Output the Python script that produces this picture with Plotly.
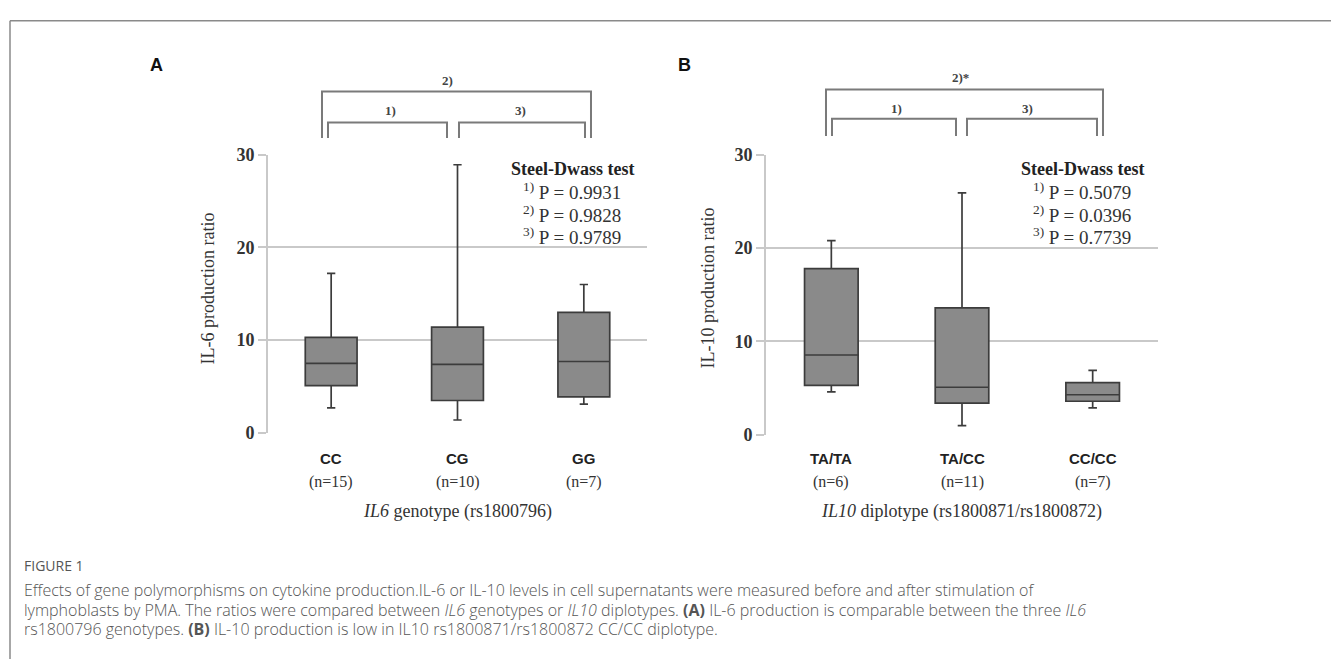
import plotly.graph_objects as go

W, H = 1331, 669

# ---------------- data ----------------
cats_a = ["CC", "CG", "GG"]
n_a = ["(n=15)", "(n=10)", "(n=7)"]
lowf_a = [2.7, 1.4, 3.1]
q1_a = [5.1, 3.5, 3.9]
med_a = [7.5, 7.4, 7.7]
q3_a = [10.3, 11.4, 13.0]
upf_a = [17.2, 28.9, 16.0]
p_a = ["0.9931", "0.9828", "0.9789"]

cats_b = ["TA/TA", "TA/CC", "CC/CC"]
n_b = ["(n=6)", "(n=11)", "(n=7)"]
lowf_b = [4.6, 1.0, 2.9]
q1_b = [5.3, 3.4, 3.6]
med_b = [8.55, 5.1, 4.3]
q3_b = [17.8, 13.6, 5.6]
upf_b = [20.8, 25.9, 6.9]
p_b = ["0.5079", "0.0396", "0.7739"]

yticks = [0, 10, 20, 30]

# ---------------- helpers ----------------
def px(x):
    return x / W

def py(y):
    return 1 - y / H

SERIF = "Liberation Serif"
SANS = "Liberation Sans"
GRID = "#c9c9c9"
BOXFILL = "#8a8a8a"
BOXLINE = "#3c3c3c"
TXT = "#333333"

fig = go.Figure()

fig.add_trace(go.Box(
    x=cats_a, q1=q1_a, median=med_a, q3=q3_a, lowerfence=lowf_a, upperfence=upf_a,
    xaxis="x", yaxis="y", fillcolor=BOXFILL, line=dict(color=BOXLINE, width=1.7),
    width=0.41, whiskerwidth=0.16, showlegend=False, boxpoints=False, hoverinfo="skip"))
fig.add_trace(go.Box(
    x=cats_b, q1=q1_b, median=med_b, q3=q3_b, lowerfence=lowf_b, upperfence=upf_b,
    xaxis="x2", yaxis="y2", fillcolor=BOXFILL, line=dict(color=BOXLINE, width=1.7),
    width=0.41, whiskerwidth=0.16, showlegend=False, boxpoints=False, hoverinfo="skip"))

xa_common = dict(type="category", range=[-0.5, 2.5], showticklabels=False, showgrid=False,
                 zeroline=False, showline=False, ticks="", fixedrange=True)
ya_common = dict(range=[0, 30], tickvals=yticks, showgrid=True, gridcolor=GRID, gridwidth=1.6,
                 zeroline=False, showline=True, linecolor=GRID, linewidth=1.6,
                 ticks="outside", ticklen=8, tickcolor=GRID, tickwidth=1.6,
                 tickfont=dict(family=SERIF, size=18, color=TXT, weight="bold"), fixedrange=True)

fig.update_layout(
    width=W, height=H, margin=dict(l=0, r=0, t=0, b=0), autosize=False,
    paper_bgcolor="white", plot_bgcolor="white",
    xaxis=dict(domain=[px(268), px(647)], anchor="y", **xa_common),
    yaxis=dict(domain=[py(436), py(149)], anchor="x", **ya_common),
    xaxis2=dict(domain=[px(766), px(1158)], anchor="y2", **xa_common),
    yaxis2=dict(domain=[py(438), py(149)], anchor="x2", **ya_common),
)

ann = []
shapes = []

# figure frame
shapes.append(dict(type="line", xref="paper", yref="paper", x0=px(10), x1=1, y0=py(11), y1=py(11),
                   line=dict(color="#8a8a8a", width=1.5)))
shapes.append(dict(type="line", xref="paper", yref="paper", x0=px(10), x1=px(10), y0=py(11), y1=0,
                   line=dict(color="#8a8a8a", width=1.5)))

def panel(xref, cats, ns, pvals, xtitle, ytitle, ytitle_x, plot_x0, plot_x1, sd_x, letter, letter_x,
          brackets, blabels):
    # category labels
    for c, n in zip(cats, ns):
        ann.append(dict(x=c, y=py(462), xref=xref, yref="paper", text="<b>%s</b>" % c, showarrow=False,
                        font=dict(family=SANS, size=15, color="#222"), xanchor="center", yanchor="middle"))
        ann.append(dict(x=c, y=py(487), xref=xref, yref="paper", text=n, showarrow=False,
                        font=dict(family=SERIF, size=16, color=TXT), xanchor="center", yanchor="middle"))
    ann.append(dict(x=px((plot_x0 + plot_x1) / 2), y=py(517), xref="paper", yref="paper", text=xtitle,
                    showarrow=False, font=dict(family=SERIF, size=18, color=TXT),
                    xanchor="center", yanchor="middle"))
    ann.append(dict(x=px(ytitle_x), y=py(287), xref="paper", yref="paper", text=ytitle, textangle=-90,
                    showarrow=False, font=dict(family=SERIF, size=18, color=TXT),
                    xanchor="center", yanchor="middle"))
    # Steel-Dwass box
    ann.append(dict(x=px(sd_x), y=py(164), xref="paper", yref="paper", text="<b>Steel-Dwass test</b>",
                    showarrow=False, font=dict(family=SERIF, size=18, color="#222"),
                    xanchor="center", yanchor="middle"))
    for i, (p, yy) in enumerate(zip(pvals, [187, 210, 233])):
        ann.append(dict(x=px(sd_x), y=py(yy), xref="paper", yref="paper",
                        text="<sup>%d)</sup> P = %s" % (i + 1, p),
                        showarrow=False, font=dict(family=SERIF, size=19, color=TXT),
                        xanchor="center", yanchor="middle"))
    # panel letter
    ann.append(dict(x=px(letter_x), y=py(57), xref="paper", yref="paper", text="<b>%s</b>" % letter,
                    showarrow=False, font=dict(family=SANS, size=18, color="#111"),
                    xanchor="center", yanchor="middle"))
    # brackets
    for (x0, x1, ytop, ybot), (lab, lx, ly) in zip(brackets, blabels):
        path = "M %f,%f L %f,%f L %f,%f L %f,%f" % (px(x0), py(ybot), px(x0), py(ytop),
                                                    px(x1), py(ytop), px(x1), py(ybot))
        shapes.append(dict(type="path", xref="paper", yref="paper", path=path,
                           line=dict(color="#7a7a7a", width=2)))
        ann.append(dict(x=px(lx), y=py(ly), xref="paper", yref="paper", text="<b>%s</b>" % lab,
                        showarrow=False, font=dict(family=SERIF, size=13, color="#444"),
                        xanchor="center", yanchor="middle"))

panel("x", cats_a, n_a, p_a, "<i>IL6</i> genotype (rs1800796)", "IL-6 production ratio", 208,
      268, 647, 572, "A", 156,
      [(322, 591, 84, 132), (328, 447, 116, 132), (459, 585, 116, 132)],
      [("2)", 447, 73), ("1)", 390, 104), ("3)", 520, 104)])
panel("x2", cats_b, n_b, p_b, "<i>IL10</i> diplotype (rs1800871/rs1800872)", "IL-10 production ratio", 708,
      766, 1158, 1082, "B", 684,
      [(826, 1103, 82, 130), (832, 956, 112, 130), (967, 1097, 112, 130)],
      [("2)*", 960, 70), ("1)", 897, 102), ("3)", 1027, 102)])

# caption
CAP = "Open Sans"
capc = "#555555"
ann.append(dict(x=px(22), y=py(573), xref="paper", yref="paper", text="FIGURE 1", showarrow=False,
                font=dict(family=CAP, size=14, color=capc), xanchor="left", yanchor="middle"))
cap_lines = [
    "Effects of gene polymorphisms on cytokine production.IL-6 or IL-10 levels in cell supernatants were measured before and after stimulation of",
    "lymphoblasts by PMA. The ratios were compared between <i>IL6</i> genotypes or <i>IL10</i> diplotypes. <b>(A)</b> IL-6 production is comparable between the three <i>IL6</i>",
    "rs1800796 genotypes. <b>(B)</b> IL-10 production is low in IL10 rs1800871/rs1800872 CC/CC diplotype.",
]
for t, yy in zip(cap_lines, [598, 618, 638]):
    ann.append(dict(x=px(22), y=py(yy), xref="paper", yref="paper", text=t, showarrow=False,
                    font=dict(family=CAP, size=16, color=capc, weight=300),
                    xanchor="left", yanchor="middle"))

fig.update_layout(annotations=ann, shapes=shapes)
fig.write_html(
    "out.html",
    config={"displayModeBar": False, "responsive": False},
    post_script=("document.body.style.margin='0';document.body.style.padding='0';"
                 "document.documentElement.style.overflow='hidden';document.body.style.overflow='hidden';"
                 "var d=document.getElementById('{plot_id}');d.style.position='fixed';"
                 "d.style.top='0px';d.style.left='0px';"),
)
